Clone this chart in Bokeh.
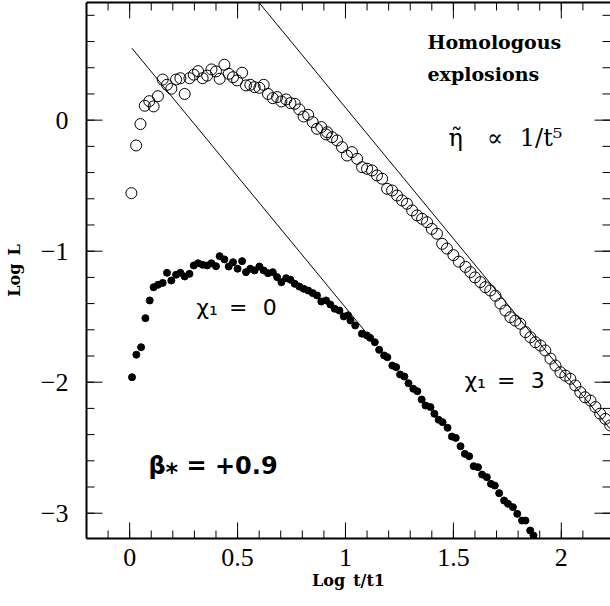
import math
from bokeh.plotting import figure
from bokeh.models import FixedTicker, LinearAxis, Range1d
from bokeh.core.properties import value
from bokeh.embed import file_html
from bokeh.resources import INLINE

# ---- data ----
# chi_1 = 3 (open circles)
x_chi3 = [0.008, 0.03, 0.05, 0.07, 0.091, 0.111, 0.131, 0.153, 0.173, 0.193,
          0.215, 0.235, 0.255, 0.277, 0.297, 0.317, 0.338, 0.359, 0.379, 0.40,
          0.417, 0.439, 0.459, 0.479, 0.498, 0.521, 0.539, 0.559, 0.579, 0.601,
          0.621, 0.641, 0.663, 0.683, 0.703, 0.725, 0.745, 0.765, 0.786, 0.806,
          0.827, 0.848, 0.868, 0.888, 0.91,
          0.915, 0.938, 0.961, 0.984, 1.007, 1.03, 1.054, 1.077, 1.10, 1.123,
          1.146, 1.17, 1.193, 1.216, 1.239, 1.262, 1.285, 1.309, 1.332, 1.355,
          1.378, 1.40, 1.424, 1.448, 1.47,
          1.50, 1.525, 1.556, 1.579, 1.60, 1.625, 1.648, 1.671, 1.695, 1.718,
          1.741, 1.764, 1.787, 1.81, 1.834, 1.857, 1.88, 1.903, 1.926, 1.95,
          1.973, 1.996, 2.019, 2.042, 2.065, 2.088, 2.11, 2.135, 2.158, 2.18,
          2.204, 2.227]
y_chi3 = [-0.557, -0.193, -0.03, 0.11, 0.145, 0.105, 0.183, 0.31, 0.27, 0.24,
          0.31, 0.32, 0.20, 0.32, 0.347, 0.374, 0.32, 0.34, 0.387, 0.372,
          0.316, 0.423, 0.354, 0.328, 0.303, 0.362, 0.265, 0.27, 0.252, 0.247,
          0.27, 0.20, 0.168, 0.176, 0.143, 0.158, 0.13, 0.125, 0.082, 0.028,
          0.041, -0.015, -0.066, -0.053, -0.109,
          -0.092, -0.13, -0.155, -0.206, -0.27, -0.244, -0.295, -0.359, -0.371, -0.384,
          -0.422, -0.447, -0.524, -0.537, -0.575, -0.613, -0.638, -0.689, -0.727, -0.753,
          -0.779, -0.83, -0.867, -0.944, -0.98,
          -1.03, -1.08, -1.12, -1.16, -1.20, -1.236, -1.275, -1.30, -1.34, -1.40,
          -1.453, -1.504, -1.53, -1.554, -1.618, -1.657, -1.695, -1.72, -1.758, -1.82,
          -1.873, -1.924, -1.95, -1.974, -2.025, -2.076, -2.115, -2.14, -2.19, -2.24,
          -2.28, -2.33]

# chi_1 = 0 (filled dots)
x_chi0 = [0.011, 0.031, 0.053, 0.073, 0.093, 0.111, 0.131, 0.153, 0.173, 0.193,
          0.215, 0.235, 0.255, 0.277, 0.297, 0.317, 0.338, 0.359, 0.379, 0.40,
          0.417, 0.439, 0.459, 0.479, 0.50, 0.521, 0.539, 0.559, 0.579, 0.601,
          0.621, 0.641, 0.663, 0.683, 0.703, 0.725, 0.745, 0.765, 0.786, 0.806,
          0.827, 0.848, 0.868, 0.888, 0.91, 0.93, 0.95, 0.972, 0.992, 1.012,
          1.023, 1.045, 1.076, 1.099, 1.114, 1.136, 1.156, 1.179, 1.194, 1.217,
          1.235, 1.253, 1.273, 1.292, 1.314, 1.333, 1.353, 1.371, 1.394, 1.412,
          1.432, 1.45, 1.473, 1.493, 1.511, 1.533, 1.553, 1.573, 1.594, 1.614,
          1.633, 1.655, 1.674, 1.692, 1.712, 1.735, 1.753, 1.776, 1.796, 1.818,
          1.834, 1.856, 1.871]
y_chi0 = [-1.962, -1.79, -1.733, -1.511, -1.376, -1.275, -1.257, -1.242, -1.165, -1.224,
          -1.18, -1.165, -1.193, -1.173, -1.109, -1.092, -1.104, -1.109, -1.092, -1.115,
          -1.038, -1.063, -1.117, -1.084, -1.134, -1.076, -1.16, -1.134, -1.147, -1.117,
          -1.147, -1.168, -1.16, -1.198, -1.237, -1.206, -1.218, -1.249, -1.27, -1.287,
          -1.30, -1.32, -1.338, -1.384, -1.376, -1.407, -1.44, -1.453, -1.498, -1.49,
          -1.529, -1.567, -1.63, -1.643, -1.661, -1.695, -1.753, -1.796, -1.809, -1.873,
          -1.885, -1.941, -1.957, -2.008, -2.05, -2.069, -2.132, -2.178, -2.19, -2.241,
          -2.287, -2.305, -2.348, -2.415, -2.425, -2.489, -2.547, -2.565, -2.641, -2.649,
          -2.705, -2.725, -2.776, -2.789, -2.847, -2.903, -2.928, -2.954, -3.005, -3.056,
          -3.056, -3.132, -3.17]

# power-law reference lines (slope -2 in log-log)
line_lo_x = [0.01, 1.10]
line_lo_y = [0.55, -1.63]
line_hi_x = [0.599, 2.228]
line_hi_y = [0.898, -2.36]

X_MIN, X_MAX = -0.2, 2.228
Y_MIN, Y_MAX = -3.193, 0.898

x_ticks = [0, 0.5, 1, 1.5, 2]
x_tick_labels = ["0", "0.5", "1", "1.5", "2"]
x_minor = [round(-0.1 + 0.1 * i, 2) for i in range(23)]
y_ticks = [-3, -2, -1, 0]
y_tick_labels = ["\u22123", "\u22122", "\u22121", "0"]
y_minor = [round(-3.0 + 0.2 * i, 2) for i in range(20)]

notes_x = [1.38, 1.38]
notes_y = [0.593, 0.349]
notes_text = ["Homologous", "explosions"]

p = figure(width=610, height=602,
           x_range=Range1d(X_MIN, X_MAX), y_range=Range1d(Y_MIN, Y_MAX),
           output_backend="svg", toolbar_location=None,
           min_border_left=86, min_border_right=0, min_border_top=2,
           min_border_bottom=64)
p.outline_line_color = None
p.xgrid.visible = False
p.ygrid.visible = False
p.background_fill_color = "white"
p.border_fill_color = "white"

for ax in p.xaxis:
    ax.ticker = FixedTicker(ticks=x_ticks, minor_ticks=[])
    ax.major_label_overrides = {t: l for t, l in zip(x_ticks, x_tick_labels)}
for ax in p.yaxis:
    ax.ticker = FixedTicker(ticks=y_ticks, minor_ticks=[])
    ax.major_label_overrides = {t: l for t, l in zip(y_ticks, y_tick_labels)}

for ax in list(p.xaxis) + list(p.yaxis):
    ax.major_tick_in = 0
    ax.major_tick_out = 0
    ax.minor_tick_in = 0
    ax.minor_tick_out = 0
    ax.axis_line_width = 2
    ax.axis_line_color = "black"
    ax.major_label_text_font = "Liberation Serif"
    ax.major_label_text_font_size = "26px"
    ax.major_label_text_color = "black"
    ax.axis_label_text_font = "DejaVu Serif"
    ax.axis_label_text_font_style = "bold"
    ax.axis_label_text_font_size = "16px"
    ax.axis_label_text_color = "black"

p.xaxis.axis_label = "Log\u2002t/t1"
p.xaxis.major_label_standoff = 10
p.xaxis.axis_label_standoff = 2
p.yaxis.axis_label = "Log\u2002L"
p.yaxis.major_label_standoff = 18
p.yaxis.axis_label_standoff = 14

# top frame edge
top = LinearAxis(ticker=FixedTicker(ticks=[], minor_ticks=[]))
top.major_tick_in = 0
top.major_tick_out = 0
top.minor_tick_in = 0
top.minor_tick_out = 0
top.major_label_text_color = None
top.major_label_standoff = 0
top.axis_label_standoff = 0
top.axis_line_width = 2
top.axis_line_color = "black"
p.add_layout(top, "above")

# inward tick marks on all four sides (screen-length rays)
UP, DOWN, RIGHT, LEFT = math.pi / 2, -math.pi / 2, 0.0, math.pi
tick_specs = [
    (x_ticks, [Y_MIN] * len(x_ticks), UP, 16),
    (x_minor, [Y_MIN] * len(x_minor), UP, 8),
    (x_ticks, [Y_MAX] * len(x_ticks), DOWN, 16),
    (x_minor, [Y_MAX] * len(x_minor), DOWN, 8),
    ([X_MIN] * len(y_ticks), y_ticks, RIGHT, 16),
    ([X_MIN] * len(y_minor), y_minor, RIGHT, 8),
    ([X_MAX] * len(y_ticks), y_ticks, LEFT, 16),
    ([X_MAX] * len(y_minor), y_minor, LEFT, 8),
]
for xs, ys, ang, ln in tick_specs:
    p.ray(x=xs, y=ys, length=ln, length_units="screen", angle=ang,
          line_color="black", line_width=1)

# data
p.line(line_lo_x, line_lo_y, line_color="black", line_width=1)
p.line(line_hi_x, line_hi_y, line_color="black", line_width=1)
p.scatter(x_chi3, y_chi3, marker="circle", size=11, fill_color=None,
          line_color="black", line_width=1)
p.scatter(x_chi0, y_chi0, marker="circle", size=7, fill_color="black",
          line_color="black")

# annotations
p.text(x=notes_x, y=notes_y, text=notes_text, text_font=value("DejaVu Serif"),
       text_font_style="bold", text_font_size="19px", text_baseline="middle",
       text_align="left", text_color="black")
p.text(x=[1.477], y=[-0.14], text=["\u03b7\u0303\u2003\u221d\u2002\u20091/t\u2075"],
       text_font=value("DejaVu Serif"), text_font_size="24px",
       text_baseline="middle", text_align="left", text_color="black")
p.text(x=[0.309, 1.551], y=[-1.43, -1.987],
       text=["\u03c7\u2081\u2002=\u2002\u20090", "\u03c7\u2081\u2002=\u2002\u20093"],
       text_font=value("DejaVu Sans"), text_font_size="22px",
       text_baseline="middle", text_align="left", text_color="black")
p.text(x=[0.087], y=[-2.643], text=["\u03b2\u204e = +0.9"],
       text_font=value("DejaVu Sans"), text_font_style="bold",
       text_font_size="24px", text_baseline="middle", text_align="left",
       text_color="black")

open("out.html", "w").write(file_html(p, INLINE))
